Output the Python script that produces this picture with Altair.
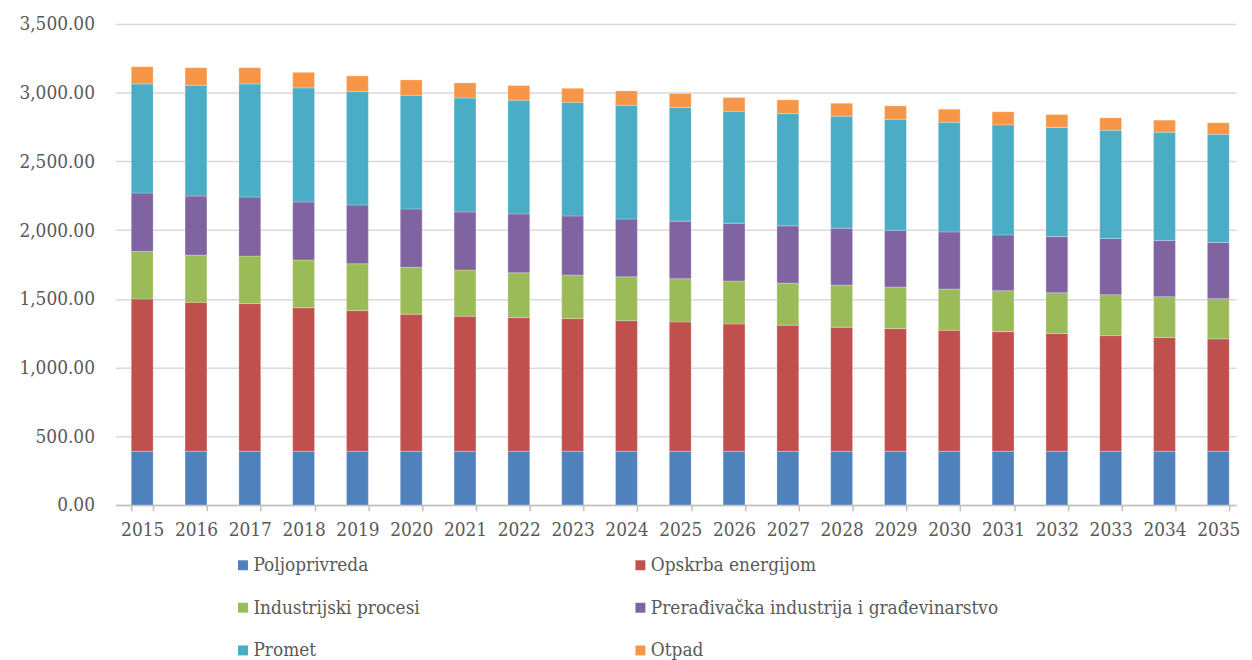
import altair as alt
import pandas as pd

years = [str(y) for y in range(2015, 2036)]
series = ["Poljoprivreda", "Opskrba energijom", "Industrijski procesi",
          "Prerađivačka industrija i građevinarstvo", "Promet", "Otpad"]
colors = ["#4F81BD", "#C0504D", "#9BBB59", "#8064A2", "#4BACC6", "#F79646"]

poljoprivreda = [390] * 21
opskrba = [1109, 1084, 1075, 1045, 1024, 998, 983, 973, 966, 951, 942,
           927, 918, 903, 893, 881, 871, 857, 842, 828, 818]
industrijski = [346, 344, 346, 347, 341, 341, 336, 326, 317, 319, 314,
                312, 306, 307, 303, 300, 298, 297, 298, 297, 293]
preradivacka = [425, 430, 430, 423, 428, 425, 423, 429, 430, 421, 419,
                421, 417, 414, 413, 416, 406, 409, 409, 410, 409]
promet = [794, 806, 823, 830, 825, 827, 830, 827, 827, 828, 827,
          815, 817, 815, 808, 798, 801, 794, 788, 788, 788]
otpad = [125, 128, 118, 113, 114, 112, 109, 107, 102, 104, 102,
         100, 100, 94, 97, 95, 95, 94, 90, 87, 83]

values = [poljoprivreda, opskrba, industrijski, preradivacka, promet, otpad]
rows = []
for si, (name, vals) in enumerate(zip(series, values)):
    for y, v in zip(years, vals):
        rows.append({"year": y, "series": name, "value": v, "idx": si})
df = pd.DataFrame(rows)

FONT = "DejaVu Serif Condensed, DejaVu Serif"
FS = 19
TXT = "#595959"

chart = alt.Chart(df).mark_bar(stroke="white", strokeWidth=0.5, strokeOpacity=0.5).encode(
    x=alt.X("year:N", title=None,
            scale=alt.Scale(paddingInner=0.594, paddingOuter=0.212, align=0.7),
            axis=alt.Axis(labelAngle=0, labelFont=FONT, labelFontSize=FS, labelColor=TXT,
                          domainColor="#BFBFBF", domainWidth=1.5, tickColor="#BFBFBF",
                          tickWidth=1.5, tickSize=6, tickBand="extent", labelPadding=10,
                          grid=False)),
    y=alt.Y("value:Q", title=None, stack="zero",
            scale=alt.Scale(domain=[0, 3500], nice=False),
            axis=alt.Axis(values=[0, 500, 1000, 1500, 2000, 2500, 3000, 3500],
                          format=",.2f", labelFont=FONT, labelFontSize=FS, labelColor=TXT,
                          domain=False, ticks=False, labelPadding=21,
                          gridColor="#D9D9D9", gridWidth=1.5)),
    color=alt.Color("series:N", title=None,
                    scale=alt.Scale(domain=series, range=colors),
                    legend=alt.Legend(orient="none", legendX=119, legendY=535, columns=2,
                                      direction="horizontal",
                                      symbolType="square", symbolSize=100, symbolStrokeWidth=0,
                                      labelFont=FONT, labelFontSize=FS, labelColor=TXT,
                                      labelLimit=600, rowPadding=23, columnPadding=212,
                                      labelOffset=1)),
    order=alt.Order("idx:Q", sort="ascending"),
).properties(
    width=1128, height=484,
    autosize=alt.AutoSizeParams(type="none"),
    padding={"left": 108, "top": 14, "right": 8, "bottom": 154},
).configure_view(stroke=None)

chart.save("out.html", embed_options={"renderer": "svg", "actions": False})
